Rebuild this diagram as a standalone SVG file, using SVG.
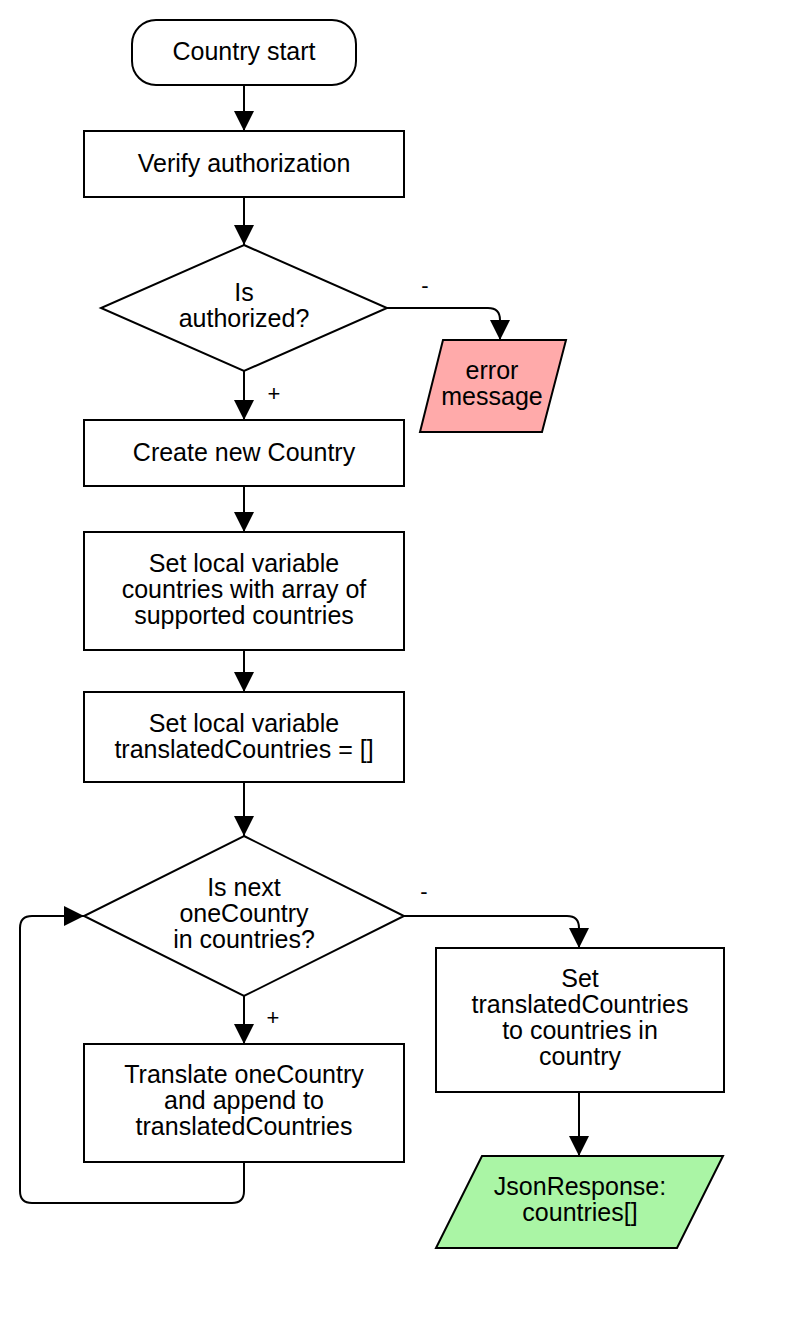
<svg xmlns="http://www.w3.org/2000/svg" width="804" height="1328" viewBox="0 0 804 1328">
<style>
.s{fill:#fff;stroke:#000;stroke-width:2}
.t{font-family:"Liberation Sans",Arial,sans-serif;font-size:25px;fill:#000;text-anchor:middle}
.l{font-family:"Liberation Sans",Arial,sans-serif;font-size:22px;fill:#000;text-anchor:middle}
.c{fill:none;stroke:#000;stroke-width:2}
</style>
<defs>
<marker id="a" markerUnits="userSpaceOnUse" markerWidth="22" markerHeight="22" refX="20" refY="10" orient="auto">
<path d="M0,0 L20,10 L0,20 Z" fill="#000"/>
</marker>
</defs>
<rect width="804" height="1328" fill="#fff"/>
<g id="connectors">
<path class="c" d="M244,85 V131" marker-end="url(#a)"/>
<path class="c" d="M244,197 V245" marker-end="url(#a)"/>
<path class="c" d="M387,308 H488 Q500,308 500,320 V340" marker-end="url(#a)"/>
<path class="c" d="M244,371 V420" marker-end="url(#a)"/>
<path class="c" d="M244,486 V532" marker-end="url(#a)"/>
<path class="c" d="M244,650 V692" marker-end="url(#a)"/>
<path class="c" d="M244,782 V836" marker-end="url(#a)"/>
<path class="c" d="M244,996 V1044" marker-end="url(#a)"/>
<path class="c" d="M244,1162 V1191 Q244,1203 232,1203 H32 Q20,1203 20,1191 V928 Q20,916 32,916 H84" marker-end="url(#a)"/>
<path class="c" d="M404,916 H567 Q579,916 579,928 V948" marker-end="url(#a)"/>
<path class="c" d="M579,1092 V1156" marker-end="url(#a)"/>
<text class="l" x="425" y="293">-</text>
<text class="l" x="274" y="401">+</text>
<text class="l" x="424" y="899">-</text>
<text class="l" x="273" y="1025">+</text>
</g>
<g id="start">
<rect class="s" x="132" y="20" width="224" height="65" rx="24"/>
<text class="t" x="244" y="60">Country start</text>
</g>
<g id="verify">
<rect class="s" x="84" y="131" width="320" height="66"/>
<text class="t" x="244" y="172">Verify authorization</text>
</g>
<g id="isAuthorized">
<polygon class="s" points="244,245 387,308 244,371 101,308"/>
<text class="t" x="244" y="301">Is</text>
<text class="t" x="244" y="327">authorized?</text>
</g>
<g id="error">
<polygon class="s" style="fill:#ffaaaa" points="443,340 566,340 542,432 420,432"/>
<text class="t" x="492" y="379">error</text>
<text class="t" x="492" y="405">message</text>
</g>
<g id="create">
<rect class="s" x="84" y="420" width="320" height="66"/>
<text class="t" x="244" y="461">Create new Country</text>
</g>
<g id="setCountries">
<rect class="s" x="84" y="532" width="320" height="118"/>
<text class="t" x="244" y="572">Set local variable</text>
<text class="t" x="244" y="598">countries with array of</text>
<text class="t" x="244" y="624">supported countries</text>
</g>
<g id="setTranslated">
<rect class="s" x="84" y="692" width="320" height="90"/>
<text class="t" x="244" y="732">Set local variable</text>
<text class="t" x="244" y="758">translatedCountries = []</text>
</g>
<g id="isNext">
<polygon class="s" points="244,836 404,916 244,996 84,916"/>
<text class="t" x="244" y="896">Is next</text>
<text class="t" x="244" y="922">oneCountry</text>
<text class="t" x="244" y="948">in countries?</text>
</g>
<g id="translate">
<rect class="s" x="84" y="1044" width="320" height="118"/>
<text class="t" x="244" y="1083">Translate oneCountry</text>
<text class="t" x="244" y="1109">and append to</text>
<text class="t" x="244" y="1135">translatedCountries</text>
</g>
<g id="setResult">
<rect class="s" x="436" y="948" width="288" height="144"/>
<text class="t" x="580" y="987">Set</text>
<text class="t" x="580" y="1013">translatedCountries</text>
<text class="t" x="580" y="1039">to countries in</text>
<text class="t" x="580" y="1065">country</text>
</g>
<g id="response">
<polygon class="s" style="fill:#aaf5a5" points="482,1156 723,1156 677,1248 436,1248"/>
<text class="t" x="580" y="1195">JsonResponse:</text>
<text class="t" x="580" y="1221">countries[]</text>
</g>
</svg>
